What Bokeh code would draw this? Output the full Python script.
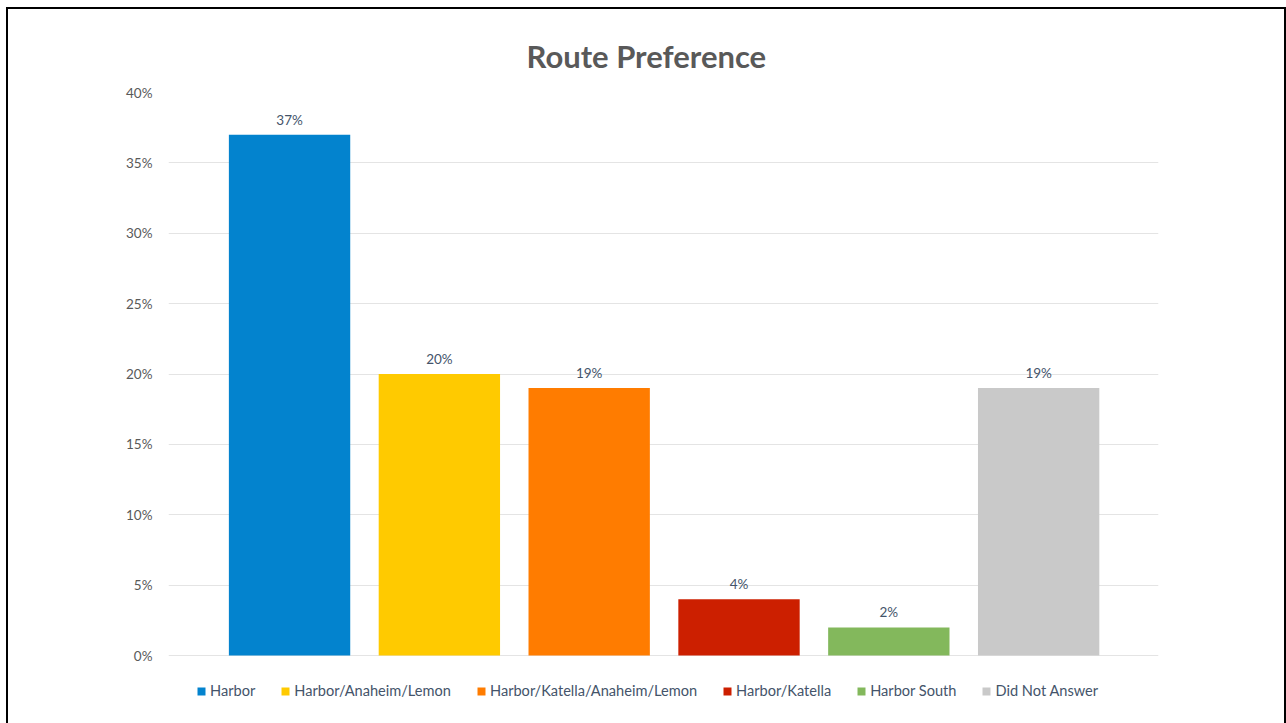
from bokeh.plotting import figure
from bokeh.models import ColumnDataSource, Legend, LegendItem, Range1d, PrintfTickFormatter, FixedTicker, LabelSet
from bokeh.core.properties import value
from bokeh.embed import file_html
from bokeh.resources import INLINE

categories = ["Harbor", "Harbor/Anaheim/Lemon", "Harbor/Katella/Anaheim/Lemon",
              "Harbor/Katella", "Harbor South", "Did Not Answer"]
values = [37, 20, 19, 4, 2, 19]
colors = ["#0383CE", "#FFCA00", "#FF7C00", "#CC1F00", "#83B85C", "#C9C9C9"]
y_ticks = [0, 5, 10, 15, 20, 25, 30, 35, 40]

FONT = "Lato"
TXT = "#595959"

p = figure(width=1276, height=714, output_backend="svg", toolbar_location=None,
           x_range=Range1d(-0.808, 5.80), y_range=Range1d(-4.26, 40),
           min_border_left=160, min_border_right=126, min_border_top=83, min_border_bottom=8)
p.styles = {"margin": "9px 0 0 8px", "outline": "2px solid black"}

p.title.text = "Route Preference"
p.title.align = "left"
p.title.offset = 358
p.title.text_font = FONT
p.title.text_font_size = "31px"
p.title.text_font_style = "bold"
p.title.text_color = TXT
p.title.standoff = 36

p.outline_line_color = None
p.background_fill_color = "white"
p.border_fill_color = "white"

p.xaxis.visible = False
p.xgrid.visible = False
p.ygrid.grid_line_color = "#E4E4E4"
p.ygrid.grid_line_width = 1

p.yaxis.ticker = FixedTicker(ticks=y_ticks)
p.yaxis.formatter = PrintfTickFormatter(format="%d%%")
p.yaxis.axis_line_color = None
p.yaxis.major_tick_line_color = None
p.yaxis.minor_tick_line_color = None
p.yaxis.major_label_text_font = FONT
p.yaxis.major_label_text_font_size = "13.5px"
p.yaxis.major_label_text_color = TXT
p.yaxis.major_label_standoff = 10

xs = list(range(len(categories)))
src = ColumnDataSource(dict(x=xs, top=values, color=colors, cat=categories,
                            label=[f"{v}%" for v in values]))

items = []
for i in xs:
    r = p.vbar(x=[xs[i]], top=[values[i]], width=0.81, bottom=0,
               fill_color=colors[i], line_color=None)
    items.append(LegendItem(label=categories[i], renderers=[r]))

labels = LabelSet(x="x", y="top", text="label", source=src, text_align="center",
                  text_baseline="bottom", y_offset=7, text_font=value(FONT),
                  text_font_size=value("13.5px"), text_color=value("#44546A"))
p.add_layout(labels)

legend = Legend(items=items, orientation="horizontal", location=(28, 16),
                glyph_width=10, glyph_height=10, label_standoff=4, spacing=25,
                label_text_font=FONT, label_text_font_size="14.6px",
                label_text_color="#44546A", border_line_color=None,
                background_fill_alpha=0, padding=0, margin=0)
p.add_layout(legend, "center")

open("out.html", "w").write(file_html(p, INLINE))
